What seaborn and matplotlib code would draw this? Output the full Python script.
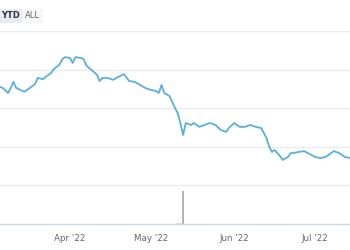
import matplotlib
matplotlib.use("Agg")
import matplotlib.pyplot as plt
import seaborn as sns
import pandas as pd

# ---- data ----
price_dates = [
    "2022-03-06", "2022-03-07", "2022-03-09", "2022-03-10", "2022-03-11", "2022-03-12",
    "2022-03-13", "2022-03-15", "2022-03-17", "2022-03-19", "2022-03-20", "2022-03-22",
    "2022-03-23", "2022-03-25", "2022-03-26", "2022-03-28", "2022-03-29", "2022-03-30",
    "2022-04-01", "2022-04-02", "2022-04-03", "2022-04-05", "2022-04-06", "2022-04-07",
    "2022-04-08", "2022-04-09", "2022-04-11", "2022-04-12", "2022-04-13", "2022-04-15",
    "2022-04-17", "2022-04-19", "2022-04-21", "2022-04-23", "2022-04-25", "2022-04-27",
    "2022-04-29", "2022-05-01", "2022-05-03", "2022-05-04", "2022-05-05", "2022-05-06",
    "2022-05-08", "2022-05-10", "2022-05-11", "2022-05-12", "2022-05-13", "2022-05-14",
    "2022-05-16", "2022-05-17", "2022-05-19", "2022-05-21", "2022-05-23", "2022-05-25",
    "2022-05-27", "2022-05-29", "2022-05-30", "2022-06-01", "2022-06-02", "2022-06-03",
    "2022-06-05", "2022-06-07", "2022-06-09", "2022-06-11", "2022-06-12", "2022-06-13",
    "2022-06-14", "2022-06-15", "2022-06-16", "2022-06-18", "2022-06-19", "2022-06-21",
    "2022-06-22", "2022-06-23", "2022-06-25", "2022-06-27", "2022-07-01", "2022-07-03",
    "2022-07-05", "2022-07-07", "2022-07-08", "2022-07-10", "2022-07-12", "2022-07-14",
]
price_values = [
    25.5, 25.2, 23.9, 25.2, 26.8, 25.2,
    24.9, 24.2, 25.2, 26.2, 27.8, 27.5,
    28.1, 29.1, 30.1, 31.2, 32.5, 33.2,
    33.0, 31.7, 33.2, 33.0, 32.7, 31.2,
    30.4, 29.9, 28.6, 27.0, 27.8, 27.8,
    27.3, 28.1, 28.8, 27.0, 26.8, 26.0,
    25.2, 24.7, 24.4, 23.9, 26.0, 23.9,
    23.1, 20.0, 18.7, 16.1, 13.0, 16.1,
    15.6, 16.1, 15.1, 15.6, 16.1, 15.6,
    14.3, 13.8, 14.8, 16.1, 15.6, 15.1,
    15.1, 15.6, 15.1, 14.8, 13.5, 12.2,
    9.9, 8.6, 9.1, 7.5, 6.5, 7.3,
    8.3, 8.3, 8.6, 8.8, 7.3, 7.0,
    7.3, 8.3, 8.8, 8.3, 7.3, 7.0,
]
volume_dates = ["2022-05-10", "2022-05-11", "2022-05-12", "2022-05-13", "2022-06-14"]
volume_values = [0.4, 0.6, 0.8, 33.0, 0.3]

tick_dates = ["2022-04-01", "2022-05-01", "2022-06-01", "2022-07-01"]
tick_labels = ["Apr '22", "May '22", "Jun '22", "Jul '22"]
price_grid = [10, 20, 30, 40]

df = pd.DataFrame({"date": pd.to_datetime(price_dates), "price": price_values})
vdf = pd.DataFrame({"date": pd.to_datetime(volume_dates), "volume": volume_values})

sns.set_theme(style="white")
plt.rcParams["font.family"] = ["DejaVu Sans"]

W, H = 350, 250
fig = plt.figure(figsize=(3.5, 2.5), dpi=100)
fig.patch.set_facecolor("white")

def fy(px):
    return 1 - px / H

ax = fig.add_axes([0, fy(185), 1, fy(31) - fy(185)])
axv = fig.add_axes([0, fy(224), 1, fy(185) - fy(224)], sharex=ax)

xmin, xmax = pd.Timestamp("2022-03-06"), pd.Timestamp("2022-07-14")

sns.lineplot(data=df, x="date", y="price", ax=ax, color="#5aaee0", linewidth=1.3)
ax.set_ylim(0, 40)
ax.set_xlim(xmin, xmax)
ax.set_yticks(price_grid)
ax.yaxis.grid(True, color="#ebebeb", linewidth=0.9)
ax.set_axisbelow(True)
for s in ax.spines.values():
    s.set_visible(False)
ax.set_xlabel("")
ax.set_ylabel("")
ax.tick_params(axis="both", which="both", length=0, labelleft=False, labelbottom=False)

axv.bar(vdf["date"], vdf["volume"], width=0.6, color="#b4b4b4", edgecolor="none")
axv.set_ylim(0, 39)
axv.set_xlim(xmin, xmax)
for s in ["left", "right"]:
    axv.spines[s].set_visible(False)
axv.spines["top"].set_color("#ebebeb")
axv.spines["top"].set_linewidth(0.9)
axv.spines["bottom"].set_color("#ccd6eb")
axv.spines["bottom"].set_linewidth(0.9)
axv.set_yticks([])
axv.set_xticks(pd.to_datetime(tick_dates))
axv.set_xticklabels(tick_labels)
axv.tick_params(axis="x", length=4, width=0.8, color="#ccd6eb", labelsize=6.3,
                labelcolor="#666666", pad=3)
axv.set_xlabel("")
axv.set_ylabel("")

# range selector buttons
fig.text(1 / W, fy(16), "YTD", fontsize=6, fontweight="bold", color="#333333",
         va="center", ha="left",
         bbox=dict(boxstyle="square,pad=0.35", facecolor="#e6ebf5", edgecolor="none"))
fig.text(25 / W, fy(16), "ALL", fontsize=6, color="#666666", va="center", ha="left",
         bbox=dict(boxstyle="square,pad=0.35", facecolor="#f7f7f7", edgecolor="none"))

fig.savefig("out.png", dpi=100, facecolor="white")
